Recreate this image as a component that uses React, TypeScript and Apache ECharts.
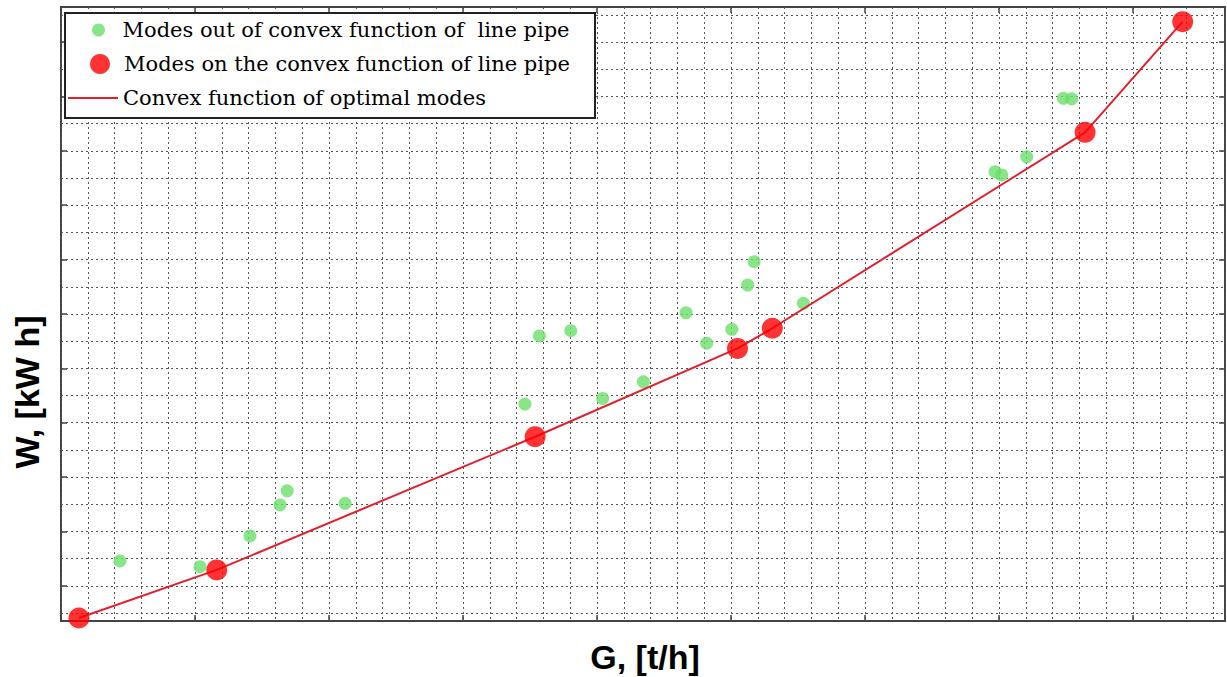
import React, { useEffect, useRef } from "react";
import * as echarts from "echarts";

// Modes out of the convex function (green)
const outG = [2.2, 5.19, 7.05, 8.17, 8.44, 10.6, 17.31, 17.85, 19.02, 20.21, 21.73, 23.32, 24.09, 25.03, 25.62, 25.86, 27.7, 34.85, 35.1, 36.03, 37.4, 37.71];
const outW = [2.21, 2.0, 3.13, 4.27, 4.79, 4.33, 7.98, 10.49, 10.68, 8.19, 8.8, 11.34, 10.22, 10.73, 12.36, 13.22, 11.69, 16.53, 16.41, 17.08, 19.23, 19.21];
// Modes on the convex function (red)
const onG = [0.67, 5.81, 17.69, 25.24, 26.54, 38.21, 41.85];
const onW = [0.11, 1.88, 6.78, 10.03, 10.77, 17.98, 22.05];

const NAME_OUT = "Modes out of convex function of  line pipe";
const NAME_ON = "Modes on the convex function of line pipe";
const NAME_LINE = "Convex function of optimal modes";

const X_MAX = 43.43;
const Y_MAX = 22.59;

export default function App() {
  const ref = useRef<HTMLDivElement>(null);
  useEffect(() => {
    if (!ref.current) return;
    const chart = echarts.init(ref.current, null, { renderer: "svg" });
    const outData = outG.map((g, i) => [g, outW[i]]);
    const onData = onG.map((g, i) => [g, onW[i]]);
    const dash = { color: "#555", width: 1, type: [2, 3] as any };
    const legendText = { fontFamily: "DejaVu Serif", fontSize: 21, color: "#000", lineHeight: 22 };
    const hidden = { show: false };
    const tick = { show: true, inside: true, length: 6, lineStyle: { color: "#444", width: 1.5 } };
    chart.setOption({
      animation: false,
      backgroundColor: "#fff",
      grid: [
        { left: 61, top: 7, width: 1164, height: 614, show: true, borderColor: "#444", borderWidth: 2, backgroundColor: "#fff" },
        { left: 61, top: 15, width: 1164, height: 598 },
        { left: 61, top: 42, width: 1164, height: 544 },
      ],
      xAxis: [
        { type: "value", gridIndex: 0, min: 0, max: X_MAX, interval: 1, axisLine: hidden, axisTick: hidden, axisLabel: hidden, splitLine: { show: true, lineStyle: dash } },
        { type: "value", gridIndex: 0, position: "bottom", min: 0, max: X_MAX, interval: 5, axisLine: hidden, axisLabel: hidden, splitLine: hidden, axisTick: tick },
        { type: "value", gridIndex: 0, position: "top", min: 0, max: X_MAX, interval: 5, axisLine: hidden, axisLabel: hidden, splitLine: hidden, axisTick: tick },
        { type: "value", gridIndex: 1, min: 0, max: 1, show: false },
        { type: "value", gridIndex: 2, min: 0, max: 1, show: false },
      ],
      yAxis: [
        { type: "value", gridIndex: 0, min: 0, max: Y_MAX, axisLine: hidden, axisTick: hidden, axisLabel: hidden, splitLine: hidden },
        { type: "value", gridIndex: 1, min: 0, max: 22, interval: 1, axisLine: hidden, axisTick: hidden, axisLabel: hidden, splitLine: { show: true, lineStyle: dash } },
        { type: "value", gridIndex: 2, position: "left", min: 0, max: 20, interval: 2, axisLine: hidden, axisLabel: hidden, splitLine: hidden, axisTick: tick },
        { type: "value", gridIndex: 2, position: "right", min: 0, max: 20, interval: 2, axisLine: hidden, axisLabel: hidden, splitLine: hidden, axisTick: tick },
      ],
      legend: [
        { data: [NAME_OUT], left: 92, top: 19, padding: 0, itemWidth: 38, itemHeight: 13, itemGap: 0, textStyle: legendText, icon: "circle" },
        { data: [NAME_ON], left: 90, top: 53, padding: 0, itemWidth: 38, itemHeight: 20, itemGap: 0, textStyle: legendText, icon: "circle" },
        { data: [NAME_LINE], left: 68, top: 87, padding: 0, itemWidth: 50, itemHeight: 2, itemGap: 0, textStyle: legendText, icon: "rect" },
      ],
      graphic: [
        { type: "rect", z: 3, shape: { x: 65, y: 13, width: 530, height: 105 }, style: { fill: "#fff", stroke: "#222", lineWidth: 2 } },
        { type: "text", z: 5, x: 645, y: 657, style: { text: "G, [t/h]", font: "bold 34px 'Liberation Sans', Arial, sans-serif", fill: "#000", textAlign: "center", textVerticalAlign: "middle" } },
        { type: "text", z: 5, x: 27, y: 392, rotation: Math.PI / 2, style: { text: "W, [kW h]", font: "bold 34px 'Liberation Sans', Arial, sans-serif", fill: "#000", textAlign: "center", textVerticalAlign: "middle" } },
      ],
      series: [
        { name: NAME_OUT, type: "scatter", xAxisIndex: 0, yAxisIndex: 0, data: outData, symbolSize: 13, itemStyle: { color: "#6ae06a" }, z: 2 },
        { name: NAME_LINE, type: "line", xAxisIndex: 0, yAxisIndex: 0, data: onData, symbol: "none", lineStyle: { color: "#e3202a", width: 2 }, itemStyle: { color: "#e3202a" }, z: 3 },
        { name: NAME_ON, type: "scatter", xAxisIndex: 0, yAxisIndex: 0, data: onData, symbolSize: 21, itemStyle: { color: "#ff0000" }, z: 4 },
      ],
    });
    return () => chart.dispose();
  }, []);
  return <div ref={ref} style={{ position: "fixed", left: 0, top: 0, width: 1227, height: 677 }} />;
}
